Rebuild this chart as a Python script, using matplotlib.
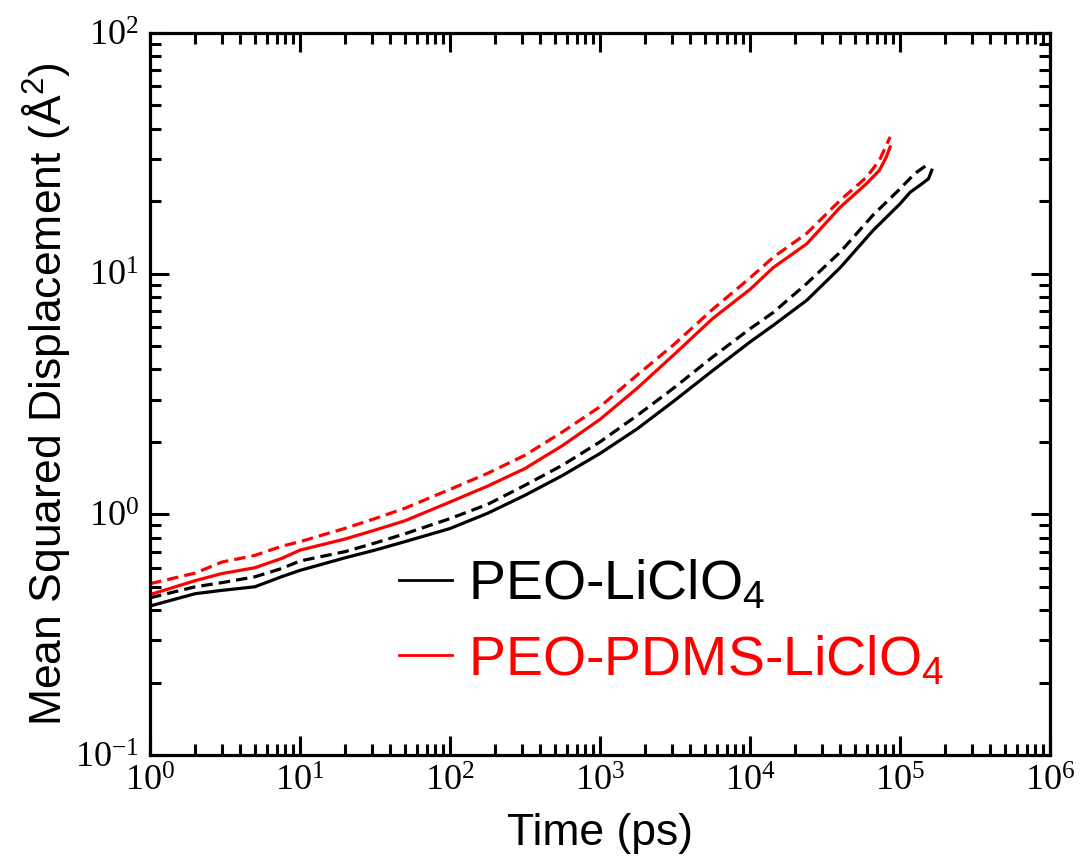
import numpy as np
import matplotlib
matplotlib.use("Agg")
import matplotlib.pyplot as plt
from matplotlib.ticker import LogLocator, NullFormatter

plt.rcParams['mathtext.fontset'] = 'custom'
plt.rcParams['mathtext.rm'] = 'Liberation Serif'
plt.rcParams['mathtext.sf'] = 'Liberation Sans'

# MSD curves, time in ps, MSD in A^2
t_peo = [1, 2, 3, 5, 7.5, 10, 20, 31.6, 50, 100, 178, 316, 562, 1000, 1778,
         3162, 5623, 1e4, 1.43e4, 2.39e4, 4e4, 6.6e4, 1e5, 1.17e5, 1.36e5,
         1.55e5, 1.63e5]
msd_peo = [0.416, 0.468, 0.483, 0.50, 0.55, 0.585, 0.66, 0.71, 0.77, 0.873,
           1.01, 1.2, 1.45, 1.79, 2.27, 2.98, 3.95, 5.2, 6.1, 7.75, 10.6, 15.1,
           19.5, 21.8, 23.3, 24.8, 26.9]

t_peo_d = [1, 2, 3, 5, 7.5, 10, 20, 31.6, 50, 100, 178, 316, 562, 1000, 1778,
           3162, 5623, 1e4, 1.43e4, 2.39e4, 4e4, 6.6e4, 1e5, 1.25e5, 1.55e5]
msd_peo_d = [0.45, 0.50, 0.52, 0.55, 0.595, 0.64, 0.70, 0.76, 0.83, 0.96,
             1.1, 1.32, 1.6, 2.0, 2.58, 3.38, 4.5, 5.9, 6.9, 9.1, 12.3, 17.5,
             22.5, 26.0, 28.6]

t_pdms = [1, 2, 3, 5, 7.5, 10, 20, 31.6, 50, 100, 178, 316, 562, 1000, 1778,
          3162, 5623, 1e4, 1.43e4, 2.39e4, 4e4, 6e4, 7.3e4, 8.1e4, 8.6e4]
msd_pdms = [0.464, 0.53, 0.567, 0.60, 0.655, 0.71, 0.79, 0.86, 0.94, 1.125,
            1.31, 1.55, 1.93, 2.48, 3.35, 4.65, 6.5, 8.6, 10.6, 13.3, 18.9,
            23.7, 26.9, 30.5, 33.6]
msd_pdms_d = [0.515, 0.57, 0.633, 0.675, 0.736, 0.77, 0.875, 0.96, 1.06, 1.27,
              1.48, 1.76, 2.2, 2.8, 3.8, 5.12, 7.1, 9.6, 11.7, 14.7, 20.2,
              25.2, 29.6, 34.1, 37.0]

labels = [r'PEO-LiClO$_\mathsf{4}$', r'PEO-PDMS-LiClO$_\mathsf{4}$']
sans = 'Liberation Sans'

fig = plt.figure(figsize=(10.81, 8.61), dpi=100)
ax = fig.add_axes([0.1388, 0.1231, 0.8325, 0.8386])

lw = 2.3
dash = (3.6, 1.9)
ax.plot(t_peo, msd_peo, color='black', lw=lw, label=labels[0])
ax.plot(t_peo_d, msd_peo_d, color='black', lw=lw, dashes=dash)
ax.plot(t_pdms, msd_pdms, color='#ff0000', lw=lw, label=labels[1])
ax.plot(t_pdms, msd_pdms_d, color='#ff0000', lw=lw, dashes=dash)

ax.set_xscale('log')
ax.set_yscale('log')
ax.set_xlim(1, 1e6)
ax.set_ylim(0.1, 100)

ax.xaxis.set_major_locator(LogLocator(base=10, numticks=10))
ax.xaxis.set_minor_locator(LogLocator(base=10, subs=np.arange(2, 10), numticks=20))
ax.yaxis.set_minor_locator(LogLocator(base=10, subs=np.arange(2, 10), numticks=20))
ax.xaxis.set_minor_formatter(NullFormatter())
ax.yaxis.set_minor_formatter(NullFormatter())

for s in ax.spines.values():
    s.set_linewidth(2.3)
ax.tick_params(which='both', direction='in', top=True, right=True, width=2.2)
ax.tick_params(which='major', length=14, pad=8)
ax.tick_params(which='minor', length=8)
for lab in ax.get_xticklabels() + ax.get_yticklabels():
    lab.set_fontfamily('Liberation Serif')
    lab.set_fontsize(26)

ax.set_xlabel('Time (ps)', fontsize=32, family=sans, labelpad=10)
ax.set_ylabel(r'Mean Squared Displacement (Å$^\mathsf{2}$)', fontsize=32,
              family=sans, labelpad=2)

leg = ax.legend(loc='upper left', bbox_to_anchor=(0.252, 0.303), frameon=False,
                prop={'family': sans, 'size': 40}, handlelength=0.95,
                handletextpad=0.3, labelspacing=0.4, borderaxespad=0)
for txt, c in zip(leg.get_texts(), ['black', '#ff0000']):
    txt.set_color(c)
for h in leg.get_lines():
    h.set_linewidth(2)

fig.savefig('out.png', dpi=100)
